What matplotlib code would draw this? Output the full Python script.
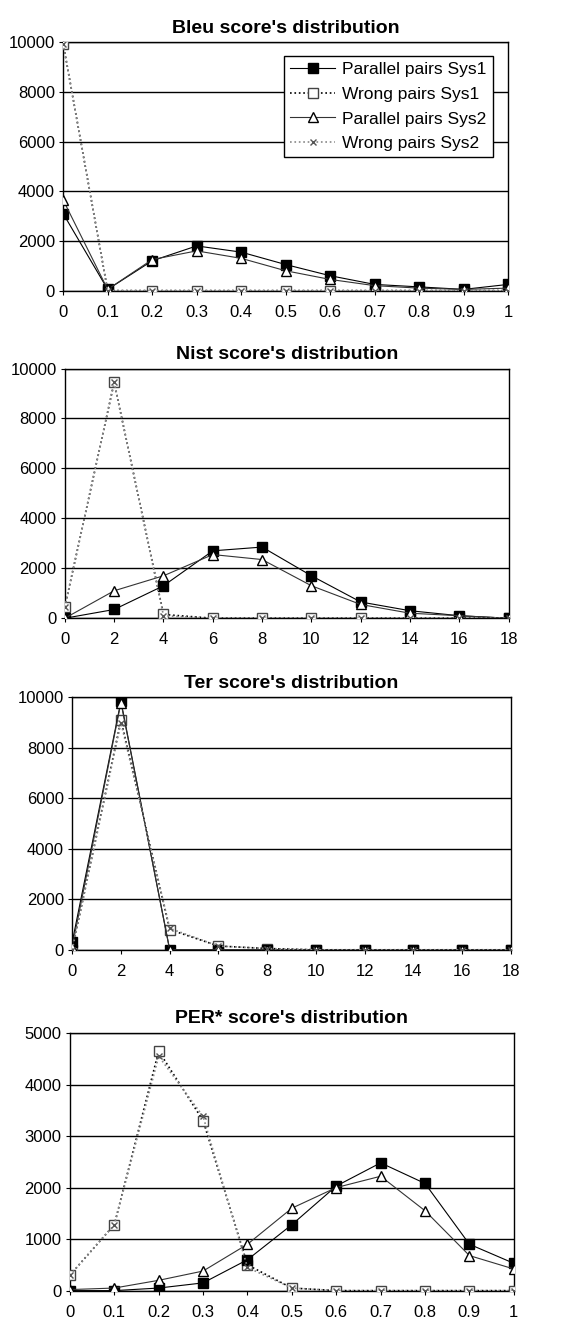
import numpy as np
from matplotlib import pyplot as plt
from matplotlib import rc

rc('font', family=['Liberation Sans', 'DejaVu Sans'])

# Bleu
bleu_x = [0, 0.1, 0.2, 0.3, 0.4, 0.5, 0.6, 0.7, 0.8, 0.9, 1]
bleu_par1 = [3100, 50, 1200, 1800, 1550, 1050, 600, 250, 150, 50, 250]
bleu_wrong1 = [9950, 0, 0, 0, 0, 0, 0, 0, 0, 0, 0]
bleu_par2 = [3650, 50, 1250, 1600, 1300, 800, 450, 200, 100, 50, 100]
bleu_wrong2 = [9950, 0, 0, 0, 0, 0, 0, 0, 0, 0, 0]

# Nist
nist_x = [0, 2, 4, 6, 8, 10, 12, 14, 16, 18]
nist_par1 = [0, 350, 1300, 2700, 2850, 1700, 650, 300, 100, 0]
nist_wrong1 = [450, 9450, 150, 0, 0, 0, 0, 0, 0, 0]
nist_par2 = [0, 1100, 1700, 2550, 2350, 1300, 550, 200, 100, 0]
nist_wrong2 = [450, 9450, 100, 0, 0, 0, 0, 0, 0, 0]

# Ter
ter_x = [0, 2, 4, 6, 8, 10, 12, 14, 16, 18]
ter_par1 = [300, 9850, 0, 0, 0, 0, 0, 0, 0, 0]
ter_wrong1 = [0, 9100, 800, 150, 50, 0, 0, 0, 0, 0]
ter_par2 = [100, 9800, 0, 0, 0, 0, 0, 0, 0, 0]
ter_wrong2 = [0, 9000, 850, 150, 50, 0, 0, 0, 0, 0]

# PER*
per_x = [0, 0.1, 0.2, 0.3, 0.4, 0.5, 0.6, 0.7, 0.8, 0.9, 1]
per_par1 = [0, 0, 50, 150, 600, 1280, 2030, 2480, 2080, 900, 530]
per_wrong1 = [300, 1280, 4650, 3300, 500, 50, 0, 0, 0, 0, 0]
per_par2 = [20, 50, 200, 380, 900, 1600, 2000, 2220, 1550, 680, 420]
per_wrong2 = [300, 1280, 4550, 3380, 450, 50, 0, 0, 0, 0, 0]

labels = ['Parallel pairs Sys1', 'Wrong pairs Sys1', 'Parallel pairs Sys2', 'Wrong pairs Sys2']

panels = [
    ("Bleu score's distribution", bleu_x, [bleu_par1, bleu_wrong1, bleu_par2, bleu_wrong2], 10000, 2000,
     [0.112, 0.780, 0.789, 0.188]),
    ("Nist score's distribution", nist_x, [nist_par1, nist_wrong1, nist_par2, nist_wrong2], 10000, 2000,
     [0.115, 0.532, 0.787, 0.189]),
    ("Ter score's distribution", ter_x, [ter_par1, ter_wrong1, ter_par2, ter_wrong2], 10000, 2000,
     [0.128, 0.281, 0.778, 0.191]),
    ("PER* score's distribution", per_x, [per_par1, per_wrong1, per_par2, per_wrong2], 5000, 1000,
     [0.124, 0.023, 0.787, 0.195]),
]

fig = plt.figure(figsize=(5.64, 13.21), dpi=100)

for i, (title, x, series, ymax, ystep, rect) in enumerate(panels):
    ax = fig.add_axes(rect)
    p1, w1, p2, w2 = series
    ax.plot(x, p1, '-', color='black', lw=0.8, marker='s', ms=7,
            mfc='black', mec='black', label=labels[0], zorder=4)
    ax.plot(x, w1, ':', color='black', lw=1.2, marker='s', ms=7,
            mfc='white', mec='#444444', label=labels[1], zorder=3)
    ax.plot(x, p2, '-', color='#333333', lw=0.8, marker='^', ms=7,
            mfc='white', mec='black', label=labels[2], zorder=5)
    ax.plot(x, w2, ':', color='#888888', lw=1.2, marker='x', ms=5,
            mec='#555555', label=labels[3], zorder=6)

    ax.set_xlim(x[0], x[-1])
    ax.set_ylim(0, ymax)
    ax.set_xticks(x)
    if x[-1] == 1:
        ax.set_xticklabels(['0' if v == 0 else ('1' if v == 1 else f'{v:.1f}') for v in x])
    ax.set_yticks(np.arange(0, ymax + 1, ystep))
    ax.yaxis.grid(True, color='black', lw=1)
    ax.set_axisbelow(True)
    for s in ax.spines.values():
        s.set_color('black')
        s.set_linewidth(1)
    ax.tick_params(labelsize=12, length=3, color='black')
    ax.tick_params(axis='x', pad=7)
    ax.tick_params(axis='y', pad=3)
    ax.set_title(title, fontsize=14, fontweight='bold', pad=7)

    if i == 0:
        leg = ax.legend(loc='upper right', bbox_to_anchor=(0.985, 0.98), fontsize=12.5,
                        frameon=True, fancybox=False, edgecolor='black', framealpha=1,
                        handlelength=2.6, borderpad=0.35, labelspacing=0.55, handletextpad=0.4)
        leg.get_frame().set_linewidth(1)

fig.savefig('out.png', dpi=100)
